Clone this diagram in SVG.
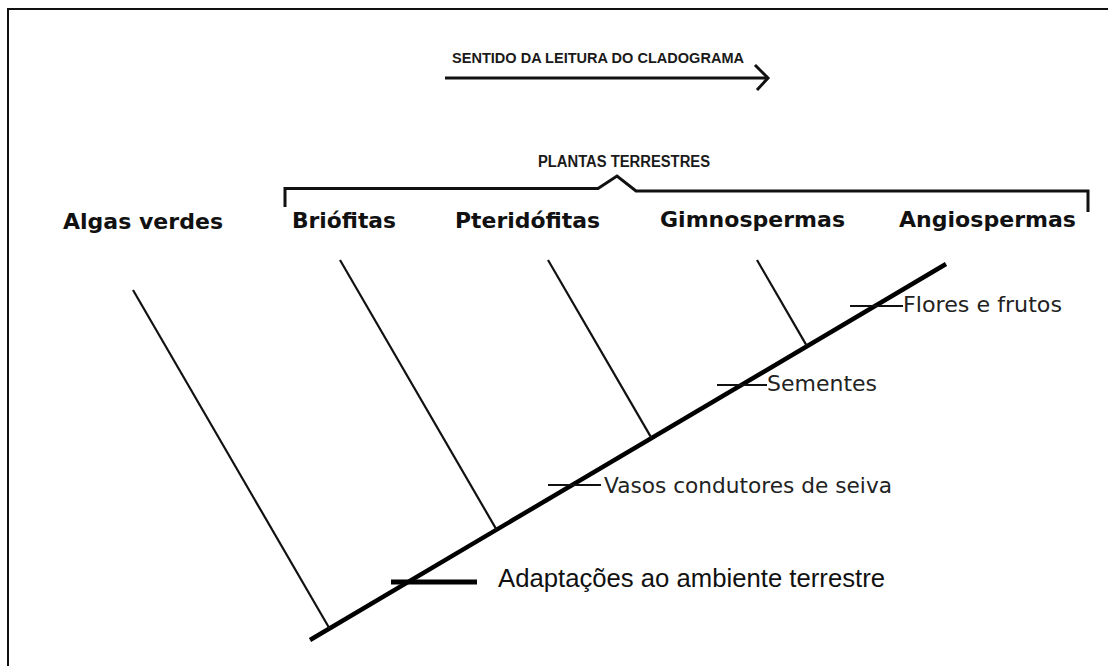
<svg xmlns="http://www.w3.org/2000/svg" width="1108" height="666" viewBox="0 0 1108 666">
<style>
.lbl{font-family:"DejaVu Sans",Verdana,sans-serif;font-weight:bold;font-size:21.5px;fill:#111}
.ann{font-family:"DejaVu Sans",Verdana,sans-serif;font-size:21.5px;fill:#222}
.cap{font-family:"Liberation Sans",Arial,sans-serif;font-weight:bold;fill:#1a1a1a}
.br{stroke:#111;stroke-width:2.2;fill:none}
.tk{stroke:#111;stroke-width:2}
</style>
<rect x="8" y="9" width="1110" height="670" fill="#fff" stroke="#111" stroke-width="2"/>
<g id="reading-direction">
<text class="cap" x="452" y="63" font-size="14.5" textLength="292" lengthAdjust="spacingAndGlyphs">SENTIDO DA LEITURA DO CLADOGRAMA</text>
<line x1="445" y1="78" x2="767" y2="78" stroke="#111" stroke-width="3"/>
<polyline points="755,65 768,78 757,90" fill="none" stroke="#111" stroke-width="3" stroke-linejoin="miter"/>
</g>
<g id="plantas-terrestres">
<text class="cap" x="538" y="167" font-size="16" textLength="172" lengthAdjust="spacingAndGlyphs">PLANTAS TERRESTRES</text>
<path d="M285,207 L285,188.5 L598,188.5 L617,176 L636,191 L1088,191 L1088,212" fill="none" stroke="#111" stroke-width="3"/>
</g>
<g id="algas-verdes"><text class="lbl" x="63" y="229" textLength="160" lengthAdjust="spacingAndGlyphs">Algas verdes</text></g>
<g id="briofitas"><text class="lbl" x="292" y="228" textLength="104" lengthAdjust="spacingAndGlyphs">Briófitas</text></g>
<g id="pteridofitas"><text class="lbl" x="455" y="228" textLength="145" lengthAdjust="spacingAndGlyphs">Pteridófitas</text></g>
<g id="gimnospermas"><text class="lbl" x="660" y="227" textLength="185" lengthAdjust="spacingAndGlyphs">Gimnospermas</text></g>
<g id="angiospermas"><text class="lbl" x="899" y="227" textLength="177" lengthAdjust="spacingAndGlyphs">Angiospermas</text></g>
<g id="connectors">
<line x1="310" y1="640" x2="946" y2="264" stroke="#000" stroke-width="4.5"/>
<line class="br" x1="133" y1="290" x2="329.5" y2="628.5"/>
<line class="br" x1="340" y1="260" x2="496.5" y2="529.6"/>
<line class="br" x1="548" y1="260" x2="651.4" y2="437.9"/>
<line class="br" x1="757" y1="260" x2="806.8" y2="345.9"/>
</g>
<g id="adaptacoes">
<line x1="391" y1="582" x2="477" y2="582" stroke="#000" stroke-width="5"/>
<text x="498" y="587" font-family="'Liberation Sans',Arial,sans-serif" font-size="25.5" fill="#111" textLength="387" lengthAdjust="spacingAndGlyphs">Adaptações ao ambiente terrestre</text>
</g>
<g id="vasos">
<line class="tk" x1="548" y1="485" x2="601" y2="485"/>
<text class="ann" x="604" y="493" textLength="288" lengthAdjust="spacingAndGlyphs">Vasos condutores de seiva</text>
</g>
<g id="sementes">
<line class="tk" x1="717" y1="385" x2="767" y2="385"/>
<text class="ann" x="767" y="391" textLength="110" lengthAdjust="spacingAndGlyphs">Sementes</text>
</g>
<g id="flores">
<line class="tk" x1="850" y1="306" x2="903" y2="306"/>
<text class="ann" x="903" y="312" textLength="159" lengthAdjust="spacingAndGlyphs">Flores e frutos</text>
</g>
</svg>
